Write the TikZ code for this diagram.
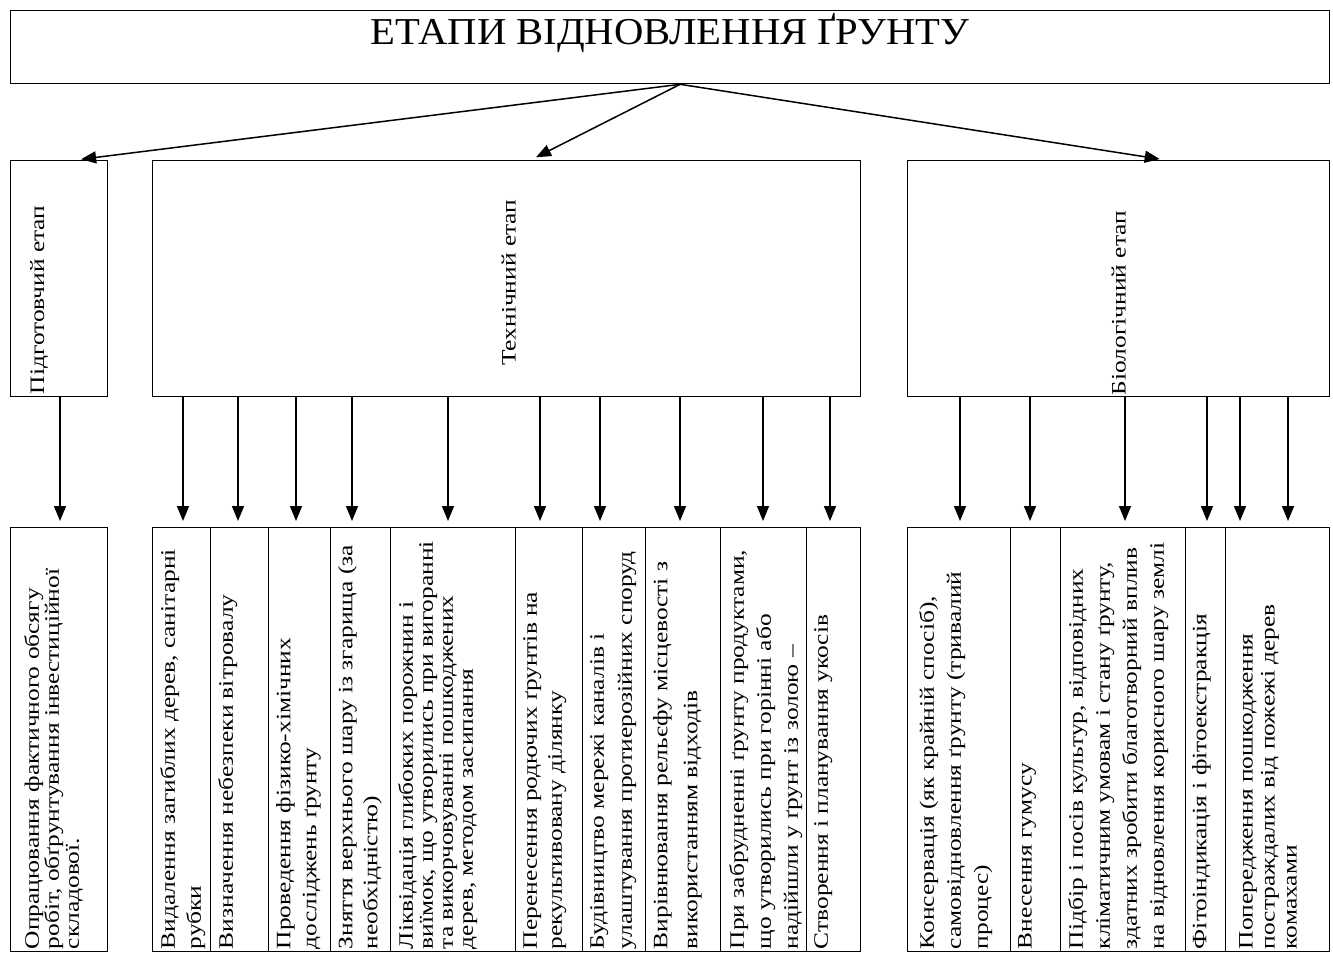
\documentclass[tikz,border=0pt]{standalone}
\usepackage{fontspec}
\setmainfont{Liberation Serif}
\newfontfamily\lblfont[FakeStretch=1.24]{Liberation Serif}
\newfontfamily\headfont[FakeStretch=1.07]{Liberation Serif}
\usetikzlibrary{arrows.meta}
\tikzset{
  box/.style={draw=black, line width=1.3pt, inner sep=0pt, anchor=north west, rectangle},
  lbl/.style={rotate=90, anchor=north west, align=left, inner sep=0pt, font=\lblfont\fontsize{20.5}{#1}\selectfont},
  lbl/.default=24,
  stage/.style={rotate=90, inner sep=0pt, font=\lblfont\fontsize{20.5}{24}\selectfont},
  arr/.style={-{Triangle[length=15pt,width=12pt]}, line width=1.5pt, shorten >=6pt},
}
\newcommand\btext[5][24]{%
  \begin{scope}
    \clip (#2.south west) rectangle (#2.north east);
    \node[lbl=#1] (#3) at ([xshift=#4pt,yshift=3pt]#2.south west) {#5};
  \end{scope}}
\begin{document}
\begin{tikzpicture}[x=1pt,y=-1pt]
\useasboundingbox (0,0) rectangle (1333,954);
% title
\node[box, minimum width=1319pt, minimum height=73pt] (title) at (10,10) {};
\node[font=\headfont\fontsize{38}{42}\selectfont, anchor=base, inner sep=0pt] (ttl) at (670,44) {ЕТАПИ ВІДНОВЛЕННЯ ҐРУНТУ};
% stages
\node[box, minimum width=97pt, minimum height=236pt] (prep) at (10,160) {};
\node[box, minimum width=708pt, minimum height=236pt] (tech) at (152,160) {};
\node[box, minimum width=422pt, minimum height=236pt] (bio) at (907,160) {};
\node[stage, anchor=north west] (prepl) at ([xshift=20pt,yshift=3pt]prep.south west) {Підготовчий етап};
\node[stage, anchor=center] (techl) at ([xshift=2pt,yshift=-4pt]tech.center) {Технічний етап};
\node[stage, anchor=west] (biol) at ([yshift=2pt]bio.south) {Біологічний етап};
\draw[arr] ([xshift=10pt]title.south) -- ([xshift=16pt]prep.north);
\draw[arr] ([xshift=10pt]title.south) -- ([xshift=24pt]tech.north);
\draw[arr] ([xshift=10pt]title.south) -- ([xshift=47pt]bio.north);
% bottom boxes
\foreach \n/\x/\w in {b0/10/97, b1/152/58, b2/210/58, b3/268/62, b4/330/60, b5/390/125, b6/515/67, b7/582/63, b8/645/75, b9/720/86, b10/806/54, c1/907/103, c2/1010/50, c3/1060/125, c4/1185/40, c5/1225/104}
  \node[box, minimum width=\w pt, minimum height=424pt] (\n) at (\x,527) {};
% arrows
\foreach \x/\s/\t in {60/prep/b0, 183/tech/b1, 238/tech/b2, 296/tech/b3, 352/tech/b4, 448/tech/b5, 540/tech/b6, 600/tech/b7, 680/tech/b8, 763/tech/b9, 830/tech/b10, 960/bio/c1, 1030/bio/c2, 1125/bio/c3, 1207/bio/c4, 1240/bio/c5, 1288/bio/c5}{
  \coordinate (ax\x) at (\x,0);
  \draw[arr] (\s.south -| ax\x) -- (\t.north -| ax\x);
}
% texts
\btext[20]{b0}{t0}{14}{Опрацювання фактичного обсягу\\робіт, обґрунтування інвестиційної\\складової.}
\btext[26]{b1}{t1}{8}{Видалення загиблих дерев, санітарні\\рубки}
\btext{b2}{t2}{8}{Визначення небезпеки вітровалу}
\btext[26]{b3}{t3}{8}{Проведення фізико-хімічних\\досліджень ґрунту}
\btext[25]{b4}{t4}{8}{Зняття верхнього шару із згарища (за\\необхідністю)}
\btext[20]{b5}{t5}{8}{Ліквідація глибоких порожнин і\\виїмок, що утворились при вигоранні\\та викорчовуванні пошкоджених\\дерев, методом засипання}
\btext[25]{b6}{t6}{8}{Перенесення родючих ґрунтів на\\рекультивовану ділянку}
\btext[28]{b7}{t7}{8}{Будівництво мережі каналів і\\улаштування протиерозійних споруд}
\btext[30]{b8}{t8}{8}{Вирівнювання рельєфу місцевості з\\використанням відходів}
\btext[27]{b9}{t9}{9}{При забрудненні ґрунту продуктами,\\що утворились при горінні або\\надійшли у ґрунт із золою –}
\btext{b10}{t10}{8}{Створення і планування укосів}
\btext[27]{c1}{u1}{12}{Консервація (як крайній спосіб),\\самовідновлення ґрунту (тривалий\\процес)}
\btext{c2}{u2}{8}{Внесення гумусу}
\btext[27]{c3}{u3}{8}{Підбір і посів культур, відповідних\\кліматичним умовам і стану ґрунту,\\здатних зробити благотворний вплив\\на відновлення корисного шару землі}
\btext{c4}{u4}{7}{Фітоіндикація і фітоекстракція}
\btext[22]{c5}{u5}{14}{Попередження пошкодження\\постраждалих від пожежі дерев\\комахами}
\end{tikzpicture}
\end{document}
